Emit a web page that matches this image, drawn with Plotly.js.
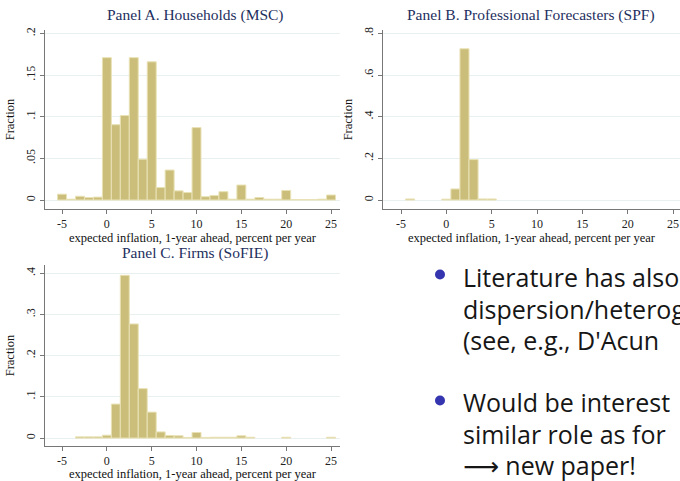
<!DOCTYPE html>
<html>
<head>
<meta charset="utf-8">
<script src="https://cdn.plot.ly/plotly-3.0.1.min.js"></script>
<style>html,body{margin:0;padding:0;background:#fff;}#chart{width:680px;height:481px;}</style>
</head>
<body>
<div id="chart"></div>
<script>
// Histogram bins (centres, width 1), expected inflation 1-year ahead
const binsA = [-5,-4,-3,-2,-1,0,1,2,3,4,5,6,7,8,9,10,11,12,13,14,15,16,17,18,19,20,21,22,23,24,25];
const fracA = [0.007,0.001,0.0045,0.003,0.0035,0.171,0.0905,0.1015,0.171,0.049,0.166,0.015,0.036,0.011,0.009,0.087,0.004,0.0055,0.010,0.001,0.018,0.001,0.003,0.001,0.001,0.0115,0.0005,0.0005,0.0005,0.001,0.006];

const binsB = [-4,0,1,2,3,4,5];
const fracB = [0.005,0.004,0.053,0.726,0.194,0.005,0.005];

const binsC = [-3,-2,-1,0,1,2,3,4,5,6,7,8,9,10,11,12,13,14,15,16,20,25];
const fracC = [0.003,0.003,0.003,0.007,0.0826,0.395,0.277,0.120,0.063,0.015,0.0064,0.0056,0.0016,0.0136,0.0016,0.002,0.002,0.002,0.0056,0.002,0.002,0.002];

const xTickVals = [-5,0,5,10,15,20,25];
const xTickText = ['-5','0','5','10','15','20','25'];
const yTicksA = [0,0.05,0.1,0.15,0.2];
const yTextA = ['0','.05','.1','.15','.2'];
const yTicksB = [0,0.2,0.4,0.6,0.8];
const yTextB = ['0','.2','.4','.6','.8'];
const yTicksC = [0,0.1,0.2,0.3,0.4];
const yTextC = ['0','.1','.2','.3','.4'];

const panelTitles = ['Panel A. Households (MSC)','Panel B. Professional Forecasters (SPF)','Panel C. Firms (SoFIE)'];
const xTitle = 'expected inflation, 1-year ahead, percent per year';
const yTitle = 'Fraction';
const bulletLines = ['Literature has also','dispersion/heterog','(see, e.g., D\'Acun','Would be interest','similar role as for','\u27F6 new paper!'];

const W = 680, H = 481;
const px = v => v / W;
const py = v => 1 - v / H;

const barStyle = {color:'#CBBE7B', line:{color:'#E9E2B6', width:1}};
function barTrace(x, y, xa, ya){
  return {type:'bar', x:x, y:y, width:1, xaxis:xa, yaxis:ya, marker:barStyle, hoverinfo:'skip', showlegend:false};
}

const serif = 'Liberation Serif, Times New Roman, serif';
const tickFont = {family:serif, size:12, color:'#222'};
const axTitleFont = {family:serif, size:12.5, color:'#111'};
const titleFont = {family:serif, size:15.5, color:'#1E2F5E'};

function xAxis(dom, range, anchor, standoff){
  return {domain:dom, range:range, anchor:anchor, tickmode:'array', tickvals:xTickVals, ticktext:xTickText,
    ticks:'outside', ticklen:4, tickcolor:'#777', showline:true, linecolor:'#777', linewidth:1,
    showgrid:false, zeroline:false, tickfont:tickFont,
    title:{text:xTitle, font:axTitleFont, standoff:standoff}};
}
function yAxis(dom, range, anchor, tv, tt){
  return {domain:dom, range:range, anchor:anchor, tickmode:'array', tickvals:tv, ticktext:tt, tickangle:-90,
    ticks:'outside', ticklen:4, tickcolor:'#777', showline:true, linecolor:'#777', linewidth:1,
    showgrid:true, gridcolor:'#E8F0F0', gridwidth:1, zeroline:false, tickfont:tickFont,
    title:{text:yTitle, font:axTitleFont, standoff:6}};
}

const data = [
  barTrace(binsA, fracA, 'x', 'y'),
  barTrace(binsB, fracB, 'x2', 'y2'),
  barTrace(binsC, fracC, 'x3', 'y3')
];

const domTop = [py(209), py(30)];
const domBot = [py(446), py(265)];

const annotations = [
  {text:panelTitles[0], x:px(195), y:py(15), xref:'paper', yref:'paper', showarrow:false, xanchor:'center', yanchor:'middle', font:titleFont},
  {text:panelTitles[1], x:px(531), y:py(15), xref:'paper', yref:'paper', showarrow:false, xanchor:'center', yanchor:'middle', font:titleFont},
  {text:panelTitles[2], x:px(195), y:py(253), xref:'paper', yref:'paper', showarrow:false, xanchor:'center', yanchor:'middle', font:titleFont}
];
const lineY = [277, 308.5, 340, 402, 433.5, 465];
bulletLines.forEach((t, i) => {
  annotations.push({text:t, x:px(461), y:py(lineY[i]), xref:'paper', yref:'paper', showarrow:false,
    xanchor:'left', yanchor:'middle', font:{family:'Open Sans, DejaVu Sans, sans-serif', size:25, color:'#161616'}});
});

const shapes = [
  {type:'circle', xref:'paper', yref:'paper', x0:px(435), x1:px(445), y0:py(279.5), y1:py(269.5), fillcolor:'#3535B0', line:{width:0}},
  {type:'circle', xref:'paper', yref:'paper', x0:px(435), x1:px(445), y0:py(405.5), y1:py(395.5), fillcolor:'#3535B0', line:{width:0}}
];

const layout = {
  width:W, height:H, margin:{l:0,r:0,t:0,b:0}, paper_bgcolor:'#fff', plot_bgcolor:'#fff',
  bargap:0, showlegend:false,
  xaxis: xAxis([px(45), px(340)], [-6.9, 26.0], 'y', 1),
  yaxis: yAxis(domTop, [-0.0108, 0.2042], 'x', yTicksA, yTextA),
  xaxis2: xAxis([px(383), 1], [-6.985, 25.77], 'y2', 1),
  yaxis2: yAxis(domTop, [-0.0432, 0.816], 'x2', yTicksB, yTextB),
  xaxis3: xAxis([px(45), px(340)], [-6.9, 26.0], 'y3', 4),
  yaxis3: yAxis(domBot, [-0.0192, 0.42], 'x3', yTicksC, yTextC),
  annotations: annotations,
  shapes: shapes
};

Plotly.newPlot('chart', data, layout, {displayModeBar:false, staticPlot:true});
</script>
</body>
</html>
